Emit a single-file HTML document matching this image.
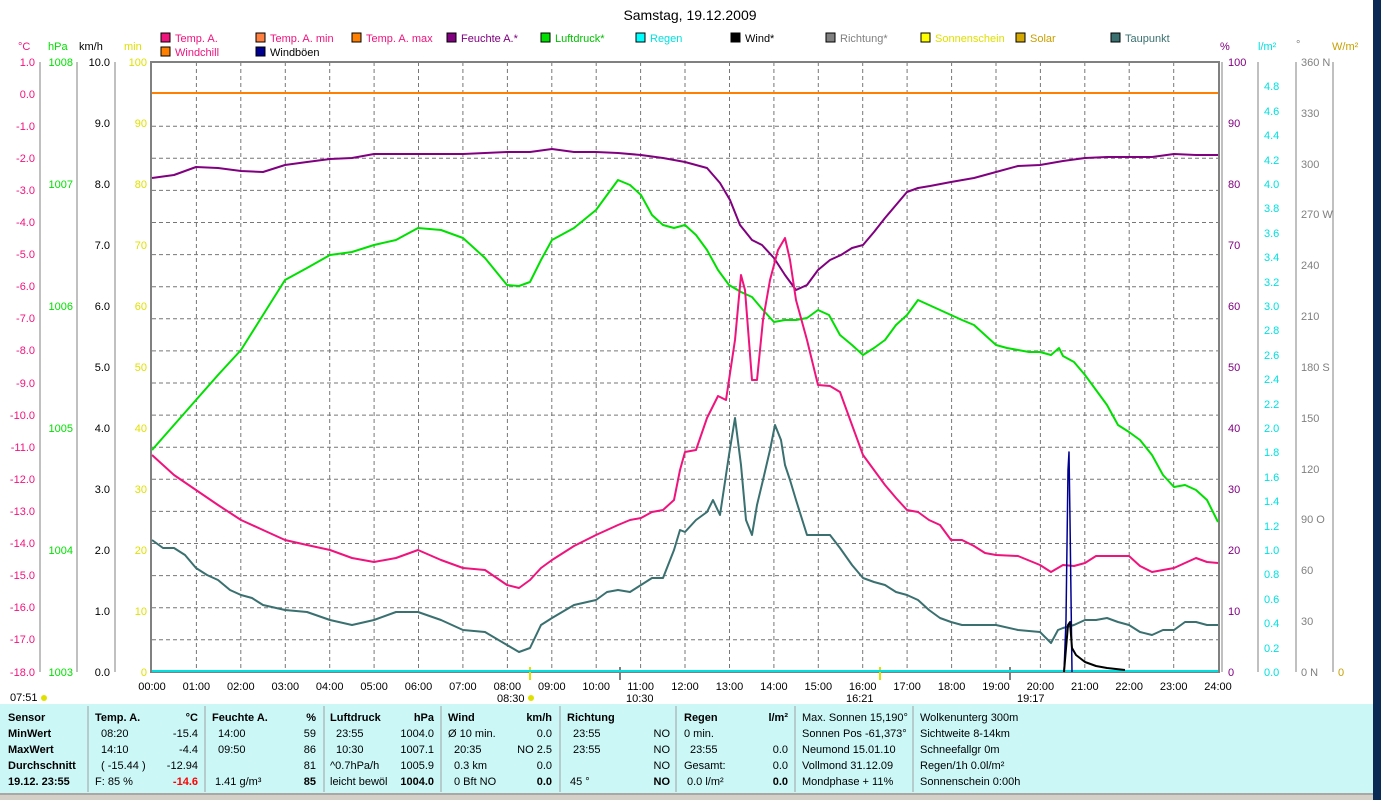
<!DOCTYPE html>
<html><head><meta charset="utf-8"><style>
html,body{margin:0;padding:0;background:#fff;width:1381px;height:800px;overflow:hidden}
svg text{font-family:"Liberation Sans",sans-serif;font-size:11px}
.b{font-weight:bold}
</style></head><body>
<svg width="1381" height="800" xmlns="http://www.w3.org/2000/svg">
<rect x="1373" y="0" width="8" height="800" fill="#0a2a55"/>
<text x="690" y="20" text-anchor="middle" font-size="14" style="font-size:14px">Samstag, 19.12.2009</text>
<g>
<rect x="161" y="33" width="9" height="9" fill="#f0137d" stroke="#000"/><text x="175" y="42" fill="#f0137d">Temp. A.</text>
<rect x="256" y="33" width="9" height="9" fill="#ff8040" stroke="#000"/><text x="270" y="42" fill="#f0137d">Temp. A. min</text>
<rect x="352" y="33" width="9" height="9" fill="#ff8000" stroke="#000"/><text x="366" y="42" fill="#f0137d">Temp. A. max</text>
<rect x="447" y="33" width="9" height="9" fill="#800080" stroke="#000"/><text x="461" y="42" fill="#800080">Feuchte A.*</text>
<rect x="541" y="33" width="9" height="9" fill="#00e000" stroke="#000"/><text x="555" y="42" fill="#00c000">Luftdruck*</text>
<rect x="636" y="33" width="9" height="9" fill="#00ffff" stroke="#000"/><text x="650" y="42" fill="#00e0e0">Regen</text>
<rect x="731" y="33" width="9" height="9" fill="#000" stroke="#000"/><text x="745" y="42">Wind*</text>
<rect x="826" y="33" width="9" height="9" fill="#808080" stroke="#000"/><text x="840" y="42" fill="#808080">Richtung*</text>
<rect x="921" y="33" width="9" height="9" fill="#ffff00" stroke="#000"/><text x="935" y="42" fill="#e0e000">Sonnenschein</text>
<rect x="1016" y="33" width="9" height="9" fill="#d4a800" stroke="#000"/><text x="1030" y="42" fill="#c8a000">Solar</text>
<rect x="1111" y="33" width="9" height="9" fill="#3a7070" stroke="#000"/><text x="1125" y="42" fill="#3a7070">Taupunkt</text>
<rect x="161" y="47" width="9" height="9" fill="#ff8000" stroke="#000"/><text x="175" y="56" fill="#f0137d">Windchill</text>
<rect x="256" y="47" width="9" height="9" fill="#000090" stroke="#000"/><text x="270" y="56">Windböen</text>
</g>
<text x="18" y="50" fill="#f0137d">°C</text><text x="48" y="50" fill="#00e000">hPa</text><text x="79" y="50">km/h</text><text x="124" y="50" fill="#e0e000">min</text>
<text x="1220" y="50" fill="#800080">%</text><text x="1258" y="50" fill="#00e0e0">l/m²</text><text x="1296" y="48" fill="#808080">°</text><text x="1332" y="50" fill="#c8a000">W/m²</text>
<g stroke="#777" stroke-dasharray="4,3" stroke-width="1">
<line x1="196.4" y1="62" x2="196.4" y2="672"/><line x1="240.8" y1="62" x2="240.8" y2="672"/><line x1="285.3" y1="62" x2="285.3" y2="672"/><line x1="329.7" y1="62" x2="329.7" y2="672"/><line x1="374.1" y1="62" x2="374.1" y2="672"/><line x1="418.5" y1="62" x2="418.5" y2="672"/><line x1="462.9" y1="62" x2="462.9" y2="672"/><line x1="507.4" y1="62" x2="507.4" y2="672"/><line x1="551.8" y1="62" x2="551.8" y2="672"/><line x1="596.2" y1="62" x2="596.2" y2="672"/><line x1="640.6" y1="62" x2="640.6" y2="672"/><line x1="685" y1="62" x2="685" y2="672"/><line x1="729.5" y1="62" x2="729.5" y2="672"/><line x1="773.9" y1="62" x2="773.9" y2="672"/><line x1="818.3" y1="62" x2="818.3" y2="672"/><line x1="862.7" y1="62" x2="862.7" y2="672"/><line x1="907.1" y1="62" x2="907.1" y2="672"/><line x1="951.6" y1="62" x2="951.6" y2="672"/><line x1="996" y1="62" x2="996" y2="672"/><line x1="1040.4" y1="62" x2="1040.4" y2="672"/><line x1="1084.8" y1="62" x2="1084.8" y2="672"/><line x1="1129.2" y1="62" x2="1129.2" y2="672"/><line x1="1173.7" y1="62" x2="1173.7" y2="672"/>
<line x1="152" y1="126.2" x2="1218" y2="126.2"/><line x1="152" y1="158.3" x2="1218" y2="158.3"/><line x1="152" y1="190.4" x2="1218" y2="190.4"/><line x1="152" y1="222.5" x2="1218" y2="222.5"/><line x1="152" y1="254.6" x2="1218" y2="254.6"/><line x1="152" y1="286.7" x2="1218" y2="286.7"/><line x1="152" y1="318.8" x2="1218" y2="318.8"/><line x1="152" y1="350.9" x2="1218" y2="350.9"/><line x1="152" y1="383" x2="1218" y2="383"/><line x1="152" y1="415.1" x2="1218" y2="415.1"/><line x1="152" y1="447.2" x2="1218" y2="447.2"/><line x1="152" y1="479.3" x2="1218" y2="479.3"/><line x1="152" y1="511.4" x2="1218" y2="511.4"/><line x1="152" y1="543.5" x2="1218" y2="543.5"/><line x1="152" y1="575.6" x2="1218" y2="575.6"/><line x1="152" y1="607.7" x2="1218" y2="607.7"/><line x1="152" y1="639.8" x2="1218" y2="639.8"/>
</g>
<g stroke="#808080" stroke-width="2" fill="none">
<line x1="151" y1="62" x2="1219" y2="62"/><line x1="151" y1="61" x2="151" y2="673"/><line x1="1219" y1="61" x2="1219" y2="673"/><line x1="151" y1="672" x2="1219" y2="672"/>
</g>
<g stroke="#808080" stroke-width="1">
<line x1="40" y1="62" x2="40" y2="672"/><line x1="77" y1="62" x2="77" y2="672"/><line x1="115" y1="62" x2="115" y2="672"/>
<line x1="1222" y1="62" x2="1222" y2="672"/><line x1="1258" y1="62" x2="1258" y2="672"/><line x1="1296" y1="62" x2="1296" y2="672"/><line x1="1333" y1="62" x2="1333" y2="672"/>
</g>
<g fill="#f0137d" text-anchor="end">
<text x="35" y="66">1.0</text><text x="35" y="98">0.0</text><text x="35" y="130">-1.0</text><text x="35" y="162">-2.0</text><text x="35" y="194">-3.0</text><text x="35" y="226">-4.0</text><text x="35" y="258">-5.0</text><text x="35" y="290">-6.0</text><text x="35" y="322">-7.0</text><text x="35" y="354">-8.0</text><text x="35" y="387">-9.0</text><text x="35" y="419">-10.0</text><text x="35" y="451">-11.0</text><text x="35" y="483">-12.0</text><text x="35" y="515">-13.0</text><text x="35" y="547">-14.0</text><text x="35" y="579">-15.0</text><text x="35" y="611">-16.0</text><text x="35" y="643">-17.0</text><text x="35" y="676">-18.0</text>
</g>
<g fill="#00e000" text-anchor="end">
<text x="73" y="66">1008</text><text x="73" y="188">1007</text><text x="73" y="310">1006</text><text x="73" y="432">1005</text><text x="73" y="554">1004</text><text x="73" y="676">1003</text>
</g>
<g text-anchor="end">
<text x="110" y="66">10.0</text><text x="110" y="127">9.0</text><text x="110" y="188">8.0</text><text x="110" y="249">7.0</text><text x="110" y="310">6.0</text><text x="110" y="371">5.0</text><text x="110" y="432">4.0</text><text x="110" y="493">3.0</text><text x="110" y="554">2.0</text><text x="110" y="615">1.0</text><text x="110" y="676">0.0</text>
</g>
<g fill="#e0e000" text-anchor="end">
<text x="147" y="66">100</text><text x="147" y="127">90</text><text x="147" y="188">80</text><text x="147" y="249">70</text><text x="147" y="310">60</text><text x="147" y="371">50</text><text x="147" y="432">40</text><text x="147" y="493">30</text><text x="147" y="554">20</text><text x="147" y="615">10</text><text x="147" y="676">0</text>
</g>
<g fill="#800080">
<text x="1228" y="66">100</text><text x="1228" y="127">90</text><text x="1228" y="188">80</text><text x="1228" y="249">70</text><text x="1228" y="310">60</text><text x="1228" y="371">50</text><text x="1228" y="432">40</text><text x="1228" y="493">30</text><text x="1228" y="554">20</text><text x="1228" y="615">10</text><text x="1228" y="676">0</text>
</g>
<g fill="#00e0e0">
<text x="1264" y="90">4.8</text><text x="1264" y="115">4.6</text><text x="1264" y="139">4.4</text><text x="1264" y="164">4.2</text><text x="1264" y="188">4.0</text><text x="1264" y="212">3.8</text><text x="1264" y="237">3.6</text><text x="1264" y="261">3.4</text><text x="1264" y="286">3.2</text><text x="1264" y="310">3.0</text><text x="1264" y="334">2.8</text><text x="1264" y="359">2.6</text><text x="1264" y="383">2.4</text><text x="1264" y="408">2.2</text><text x="1264" y="432">2.0</text><text x="1264" y="456">1.8</text><text x="1264" y="481">1.6</text><text x="1264" y="505">1.4</text><text x="1264" y="530">1.2</text><text x="1264" y="554">1.0</text><text x="1264" y="578">0.8</text><text x="1264" y="603">0.6</text><text x="1264" y="627">0.4</text><text x="1264" y="652">0.2</text><text x="1264" y="676">0.0</text>
</g>
<g fill="#808080">
<text x="1301" y="66">360 N</text><text x="1301" y="117">330</text><text x="1301" y="168">300</text><text x="1301" y="218">270 W</text><text x="1301" y="269">240</text><text x="1301" y="320">210</text><text x="1301" y="371">180 S</text><text x="1301" y="422">150</text><text x="1301" y="473">120</text><text x="1301" y="523">90  O</text><text x="1301" y="574">60</text><text x="1301" y="625">30</text><text x="1301" y="676">0   N</text>
</g>
<text x="1338" y="676" fill="#c8a000">0</text>
<g text-anchor="middle">
<text x="152" y="690">00:00</text><text x="196.4" y="690">01:00</text><text x="240.8" y="690">02:00</text><text x="285.3" y="690">03:00</text><text x="329.7" y="690">04:00</text><text x="374.1" y="690">05:00</text><text x="418.5" y="690">06:00</text><text x="462.9" y="690">07:00</text><text x="507.4" y="690">08:00</text><text x="551.8" y="690">09:00</text><text x="596.2" y="690">10:00</text><text x="640.6" y="690">11:00</text><text x="685" y="690">12:00</text><text x="729.5" y="690">13:00</text><text x="773.9" y="690">14:00</text><text x="818.3" y="690">15:00</text><text x="862.7" y="690">16:00</text><text x="907.1" y="690">17:00</text><text x="951.6" y="690">18:00</text><text x="996" y="690">19:00</text><text x="1040.4" y="690">20:00</text><text x="1084.8" y="690">21:00</text><text x="1129.2" y="690">22:00</text><text x="1173.7" y="690">23:00</text><text x="1218" y="690">24:00</text>
</g>
<text x="10" y="701">07:51</text><text x="497" y="702">08:30</text><text x="626" y="702">10:30</text><text x="846" y="702">16:21</text><text x="1017" y="702">19:17</text>
<line x1="530" y1="667" x2="530" y2="680" stroke="#e0e000" stroke-width="2"/><line x1="620" y1="667" x2="620" y2="680" stroke="#808080" stroke-width="2"/><line x1="880" y1="667" x2="880" y2="680" stroke="#e0e000" stroke-width="2"/><line x1="1010" y1="667" x2="1010" y2="680" stroke="#808080" stroke-width="2"/>
<circle cx="44" cy="698" r="3" fill="#e0e000"/><circle cx="531" cy="698" r="3" fill="#e0e000"/>
<line x1="152" y1="671" x2="1218" y2="671" stroke="#00e0e0" stroke-width="2"/>
<line x1="152" y1="93" x2="1218" y2="93" stroke="#ff8000" stroke-width="2"/>
<g fill="none" stroke-width="2" stroke-linejoin="round">
<polyline stroke="#800080" points="152,178 174,175 196,167 218,168 241,171 263,172 285,165 307,162 330,159 352,158 374,154 396,154 418,154 441,154 463,154 485,153 507,152 530,152 552,149 574,152 596,152 618,153 641,155 663,158 685,162 707,168 720,183 730,200 740,225 752,240 762,245 774,258 785,275 796,290 807,285 818,270 830,260 841,255 852,248 863,245 874,232 885,218 896,205 907,192 918,188 930,186 951,182 974,178 996,172 1018,166 1040,165 1063,161 1085,158 1107,157 1129,157 1152,157 1174,154 1196,155 1218,155"/>
<polyline stroke="#00e000" points="152,450 174,425 196,400 218,375 241,350 263,315 285,280 307,268 330,255 352,252 374,245 396,240 418,228 441,230 463,238 485,258 507,285 519,286 530,282 541,260 552,240 574,228 596,210 607,195 618,180 630,185 641,195 652,215 663,225 674,228 685,225 696,235 707,250 718,270 729,285 741,292 752,297 763,310 774,322 785,320 796,320 807,318 818,310 829,315 840,335 852,345 863,355 874,348 885,340 896,325 907,315 918,300 929,305 940,310 951,315 962,320 974,325 985,335 996,345 1007,348 1018,350 1029,352 1040,352 1051,355 1059,348 1063,356 1074,362 1085,375 1096,390 1107,405 1118,425 1129,432 1140,440 1152,455 1163,475 1174,487 1185,485 1196,490 1207,500 1218,522"/>
<polyline stroke="#f0137d" points="152,455 174,475 196,490 218,505 241,520 263,530 285,540 307,545 330,550 352,558 374,562 396,558 418,550 441,560 463,568 485,570 507,585 519,588 530,580 541,568 552,560 574,546 596,535 618,525 630,520 641,518 652,512 663,510 674,500 680,470 685,452 696,450 707,418 718,396 726,400 735,340 741,275 745,290 752,380 757,380 763,320 770,280 778,250 785,238 790,260 796,300 807,340 818,385 830,386 840,392 852,425 863,455 874,470 885,485 896,498 907,510 918,512 929,520 940,525 951,540 962,540 974,546 985,553 996,555 1018,556 1040,565 1051,572 1063,565 1074,566 1085,563 1096,556 1107,556 1118,556 1129,556 1140,566 1152,572 1163,570 1174,568 1185,563 1196,558 1207,562 1218,563"/>
<polyline stroke="#3a7070" points="152,540 163,548 174,548 185,555 196,568 207,575 218,580 230,590 241,595 252,598 263,605 285,610 307,612 330,620 352,625 374,620 396,612 418,612 441,620 463,630 485,632 507,645 519,652 530,648 541,625 552,618 574,605 596,600 607,592 618,590 630,592 641,585 652,578 663,578 674,550 680,530 685,532 696,520 707,512 713,500 720,515 729,455 735,418 741,465 746,520 752,535 757,505 763,480 770,450 775,425 781,440 785,465 790,480 796,500 807,535 818,535 830,535 840,548 852,565 863,578 874,582 885,585 896,592 907,595 918,600 929,610 940,618 951,622 962,625 974,625 985,625 996,625 1018,630 1040,632 1051,643 1058,630 1063,628 1074,625 1085,620 1096,620 1107,618 1118,622 1129,625 1140,632 1152,635 1163,630 1174,630 1185,622 1196,622 1207,625 1218,625"/>
<polyline stroke="#000090" stroke-width="1.5" points="1064,672 1066,620 1068,470 1069,452 1070,520 1072,672"/>
<polyline stroke="#000" points="1064,672 1068,625 1070,622 1072,648 1076,655 1085,662 1096,666 1107,668 1125,670"/>
</g>
<rect x="0" y="704" width="1373" height="90" fill="#ccf7f7"/>
<rect x="0" y="793" width="1373" height="7" fill="#d4d0c8"/>
<line x1="0" y1="794" x2="1373" y2="794" stroke="#808080"/>
<g stroke="#a0a0a0"><line x1="88" y1="706" x2="88" y2="792"/><line x1="205" y1="706" x2="205" y2="792"/><line x1="324" y1="706" x2="324" y2="792"/><line x1="441" y1="706" x2="441" y2="792"/><line x1="560" y1="706" x2="560" y2="792"/><line x1="676" y1="706" x2="676" y2="792"/><line x1="795" y1="706" x2="795" y2="792"/><line x1="913" y1="706" x2="913" y2="792"/></g>
<g>
<text x="8" y="721" class="b">Sensor</text><text x="8" y="737" class="b">MinWert</text><text x="8" y="753" class="b">MaxWert</text><text x="8" y="769" class="b">Durchschnitt</text><text x="8" y="785" class="b">19.12. 23:55</text>
<text x="95" y="721" class="b">Temp. A.</text><text x="198" y="721" class="b" text-anchor="end">°C</text>
<text x="101" y="737">08:20</text><text x="198" y="737" text-anchor="end">-15.4</text>
<text x="101" y="753">14:10</text><text x="198" y="753" text-anchor="end">-4.4</text>
<text x="101" y="769">( -15.44 )</text><text x="198" y="769" text-anchor="end">-12.94</text>
<text x="95" y="785">F: 85 %</text><text x="198" y="785" text-anchor="end" class="b" fill="#ff0000">-14.6</text>
<text x="212" y="721" class="b">Feuchte A.</text><text x="316" y="721" class="b" text-anchor="end">%</text>
<text x="218" y="737">14:00</text><text x="316" y="737" text-anchor="end">59</text>
<text x="218" y="753">09:50</text><text x="316" y="753" text-anchor="end">86</text>
<text x="316" y="769" text-anchor="end">81</text>
<text x="215" y="785">1.41 g/m³</text><text x="316" y="785" text-anchor="end" class="b">85</text>
<text x="330" y="721" class="b">Luftdruck</text><text x="434" y="721" class="b" text-anchor="end">hPa</text>
<text x="336" y="737">23:55</text><text x="434" y="737" text-anchor="end">1004.0</text>
<text x="336" y="753">10:30</text><text x="434" y="753" text-anchor="end">1007.1</text>
<text x="330" y="769">^0.7hPa/h</text><text x="434" y="769" text-anchor="end">1005.9</text>
<text x="330" y="785">leicht bewöl</text><text x="434" y="785" text-anchor="end" class="b">1004.0</text>
<text x="448" y="721" class="b">Wind</text><text x="552" y="721" class="b" text-anchor="end">km/h</text>
<text x="448" y="737">Ø 10 min.</text><text x="552" y="737" text-anchor="end">0.0</text>
<text x="454" y="753">20:35</text><text x="552" y="753" text-anchor="end">NO 2.5</text>
<text x="454" y="769">0.3 km</text><text x="552" y="769" text-anchor="end">0.0</text>
<text x="454" y="785">0 Bft NO</text><text x="552" y="785" text-anchor="end" class="b">0.0</text>
<text x="567" y="721" class="b">Richtung</text>
<text x="573" y="737">23:55</text><text x="670" y="737" text-anchor="end">NO</text>
<text x="573" y="753">23:55</text><text x="670" y="753" text-anchor="end">NO</text>
<text x="670" y="769" text-anchor="end">NO</text>
<text x="570" y="785">45 °</text><text x="670" y="785" text-anchor="end" class="b">NO</text>
<text x="684" y="721" class="b">Regen</text><text x="788" y="721" class="b" text-anchor="end">l/m²</text>
<text x="684" y="737">0 min.</text>
<text x="690" y="753">23:55</text><text x="788" y="753" text-anchor="end">0.0</text>
<text x="684" y="769">Gesamt:</text><text x="788" y="769" text-anchor="end">0.0</text>
<text x="687" y="785">0.0 l/m²</text><text x="788" y="785" text-anchor="end" class="b">0.0</text>
<text x="802" y="721">Max. Sonnen 15,190°</text><text x="802" y="737">Sonnen Pos  -61,373°</text><text x="802" y="753">Neumond     15.01.10</text><text x="802" y="769">Vollmond     31.12.09</text><text x="802" y="785">Mondphase       + 11%</text>
<text x="920" y="721">Wolkenunterg   300m</text><text x="920" y="737">Sichtweite     8-14km</text><text x="920" y="753">Schneefallgr        0m</text><text x="920" y="769">Regen/1h     0.0l/m²</text><text x="920" y="785">Sonnenschein  0:00h</text>
</g>
</svg>
</body></html>
